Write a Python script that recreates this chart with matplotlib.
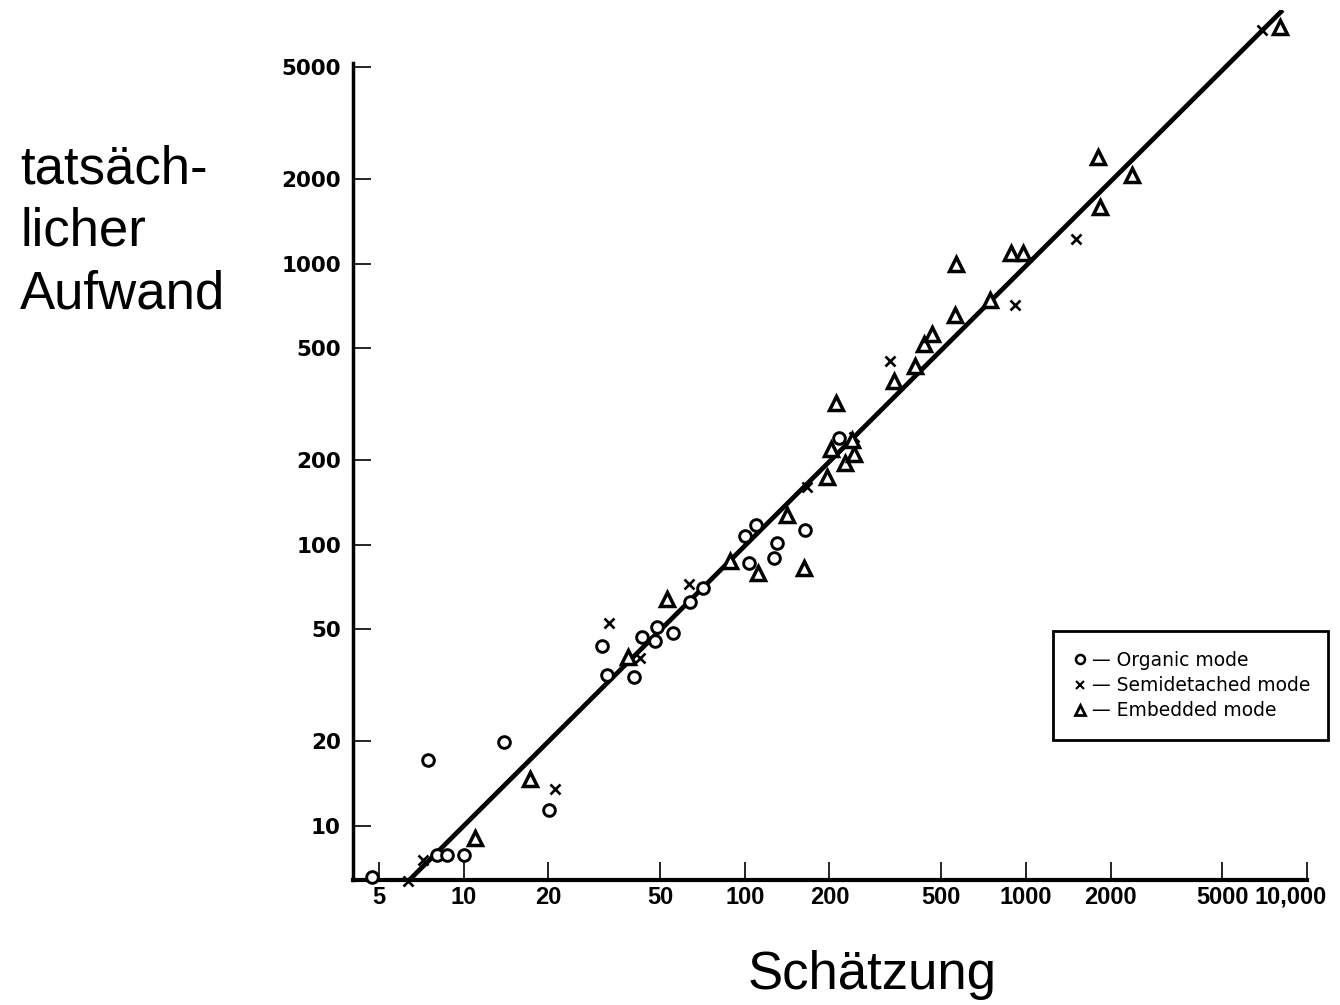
import matplotlib
matplotlib.use("Agg")
import matplotlib.pyplot as plt
import matplotlib.transforms as mtransforms
from matplotlib.lines import Line2D

# ---- data ----
organic_x = [4.72, 7.45, 8.01, 8.70, 10.0, 13.95, 20.2, 31.0, 32.4, 40.4, 43.2, 48.0,
             48.9, 55.4, 63.9, 70.9, 100.2, 109.7, 103.8, 127.2, 130.6, 163.9, 217.2]
organic_y = [6.57, 17.2, 7.87, 7.87, 7.87, 19.9, 11.4, 43.6, 34.4, 33.9, 46.8, 45.5,
             50.8, 48.4, 62.7, 70.0, 107.6, 117.2, 86.3, 89.9, 101.2, 112.8, 239.1]

semi_x = [6.35, 7.15, 21.1, 33.0, 42.4, 63.5, 166.2, 244.9, 328.9, 916, 1510, 6918]
semi_y = [6.36, 7.55, 13.5, 52.8, 39.4, 72.5, 160.9, 241.1, 451.7, 713, 1221, 6787]

emb_x = [10.97, 17.2, 38.5, 53.0, 88.6, 111.8, 162.6, 141.8, 196.8, 211.3, 202.3, 227.5,
         244.9, 240.4, 340, 403.7, 435.6, 463, 560.2, 564.9, 746.5, 884.5, 980.6,
         1798, 2384, 1838, 7991]
emb_y = [9.06, 14.7, 39.9, 63.9, 87.7, 79.5, 82.8, 127.5, 173.8, 320.1, 218.6, 195.8,
         210.3, 235.9, 383.3, 432.5, 516.7, 562, 656.8, 995.2, 742.8, 1089, 1089,
         2391, 2069, 1595, 6973]

fit_x = [6.3, 8200]
fit_y = [6.3, 8000]

x_ticks = [5, 10, 20, 50, 100, 200, 500, 1000, 2000, 5000, 10000]
x_ticklabels = ["5", "10", "20", "50", "100", "200", "500", "1000", "2000", "5000", "10,000"]
y_ticks = [10, 20, 50, 100, 200, 500, 1000, 2000, 5000]
y_ticklabels = ["10", "20", "50", "100", "200", "500", "1000", "2000", "5000"]

legend_labels = ["\u2014 Organic mode", "\u2014 Semidetached mode", "\u2014 Embedded mode"]
y_title = "tats\u00e4ch-\nlicher\nAufwand"
x_title = "Sch\u00e4tzung"

# ---- figure ----
W, H = 1340, 1005
fig = plt.figure(figsize=(W / 100, H / 100), dpi=100)
ax = fig.add_axes([352.7 / W, 125 / H, (1307 - 352.7) / W, 870 / H])
ax.set_xscale("log")
ax.set_yscale("log")
ax.set_xlim(4.03, 10000)
ax.set_ylim(6.41, 8000)

ax.plot(fit_x, fit_y, color="black", lw=3.4, zorder=2, solid_capstyle="butt")

ax.plot(organic_x, organic_y, ls="none", marker="o", ms=8.4, mfc="white",
        mec="black", mew=2.1, zorder=3, clip_on=False)
ax.plot(semi_x, semi_y, ls="none", marker="x", ms=7.6, mec="black",
        mew=1.9, zorder=3, clip_on=False)
ax.plot(emb_x, emb_y, ls="none", marker="^", ms=9.8, mfc="white",
        mec="black", mew=2.5, zorder=3, clip_on=False)

# spines
for s in ["top", "right"]:
    ax.spines[s].set_visible(False)
ax.spines["left"].set_linewidth(2.5)
ax.spines["bottom"].set_linewidth(3.0)
ax.spines["left"].set_bounds(6.41, 5200)
ax.spines["bottom"].set_bounds(4.03, 10000)

ax.minorticks_off()
ax.set_xticks(x_ticks)
ax.set_xticklabels(x_ticklabels, fontfamily="Liberation Sans", fontweight="bold", fontsize=17)
ax.set_yticks(y_ticks)
ax.set_yticklabels(y_ticklabels, fontfamily="DejaVu Sans", fontweight="bold", fontsize=15.5)
ax.minorticks_off()
ax.tick_params(axis="x", direction="in", length=13, width=1.2, pad=4)
ax.tick_params(axis="y", direction="in", length=13, width=1.2, pad=8.5)

# shift the last x label ("10,000") a little left, as in the reference
last = ax.get_xticklabels()[-1]
last.set_transform(last.get_transform() +
                   mtransforms.ScaledTranslation(-16 / 100, 0, fig.dpi_scale_trans))

# legend
handles = [
    Line2D([], [], ls="none", marker="o", ms=6.5, mfc="white", mec="black", mew=1.8),
    Line2D([], [], ls="none", marker="x", ms=6, mec="black", mew=1.5),
    Line2D([], [], ls="none", marker="^", ms=7.5, mfc="white", mec="black", mew=2.0),
]
leg = fig.legend(handles, legend_labels, loc="upper left",
                 bbox_to_anchor=(1053 / W, 1 - 631 / H, (1328 - 1053) / W, 0.0),
                 mode="expand", prop={"family": "DejaVu Sans", "size": 13.5},
                 handlelength=0.8, handletextpad=0.25, borderpad=1.05,
                 labelspacing=0.34, fancybox=False, framealpha=1, borderaxespad=0)
leg.get_frame().set_edgecolor("black")
leg.get_frame().set_linewidth(2.0)

# titles
fig.text(20 / W, 1 - 232 / H, y_title, fontfamily="Liberation Sans", fontsize=38,
         ha="left", va="center", linespacing=1.32)
fig.text(872 / W, 1 - 975 / H, x_title, fontfamily="Liberation Sans", fontsize=38,
         ha="center", va="center")

fig.savefig("out.png", dpi=100)
